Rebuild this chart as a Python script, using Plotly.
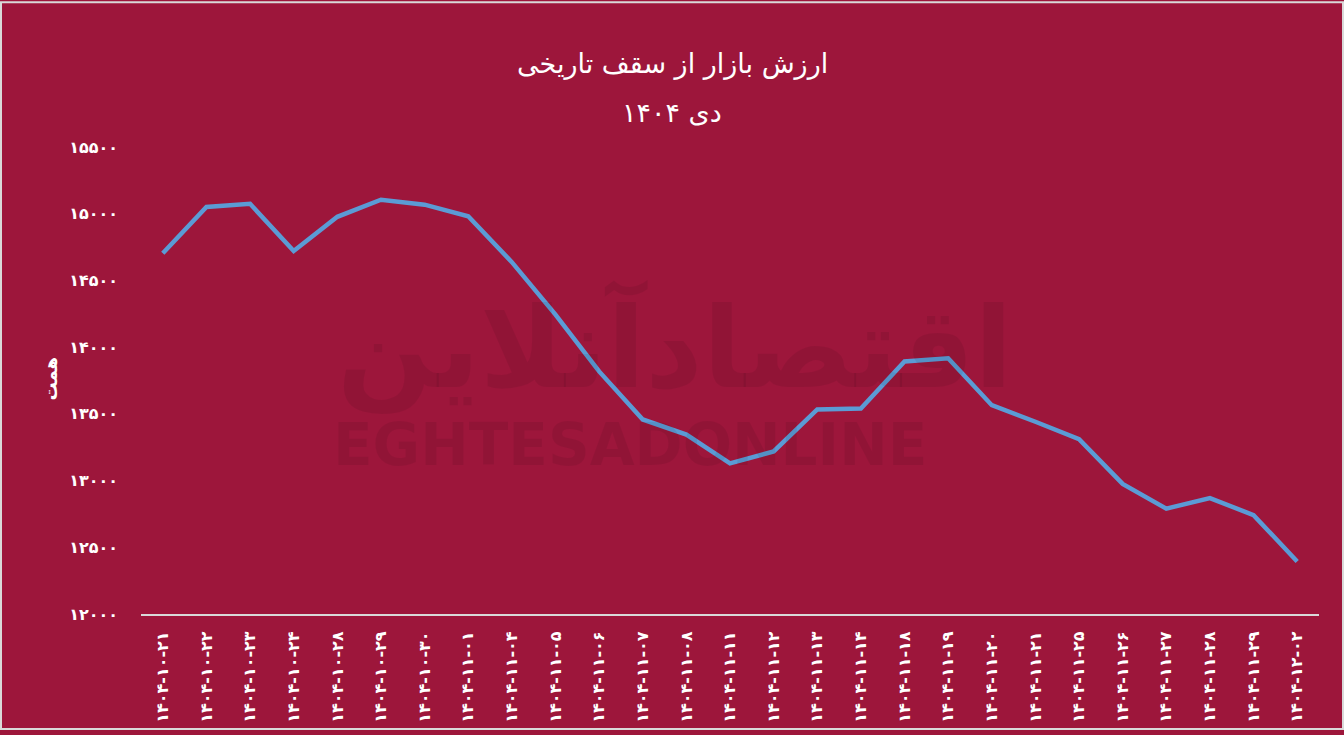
import plotly.graph_objects as go

dates = ["۱۴۰۴-۱۰-۲۱", "۱۴۰۴-۱۰-۲۲", "۱۴۰۴-۱۰-۲۳", "۱۴۰۴-۱۰-۲۴", "۱۴۰۴-۱۰-۲۸",
         "۱۴۰۴-۱۰-۲۹", "۱۴۰۴-۱۰-۳۰", "۱۴۰۴-۱۱-۰۱", "۱۴۰۴-۱۱-۰۴", "۱۴۰۴-۱۱-۰۵",
         "۱۴۰۴-۱۱-۰۶", "۱۴۰۴-۱۱-۰۷", "۱۴۰۴-۱۱-۰۸", "۱۴۰۴-۱۱-۱۱", "۱۴۰۴-۱۱-۱۲",
         "۱۴۰۴-۱۱-۱۳", "۱۴۰۴-۱۱-۱۴", "۱۴۰۴-۱۱-۱۸", "۱۴۰۴-۱۱-۱۹", "۱۴۰۴-۱۱-۲۰",
         "۱۴۰۴-۱۱-۲۱", "۱۴۰۴-۱۱-۲۵", "۱۴۰۴-۱۱-۲۶", "۱۴۰۴-۱۱-۲۷", "۱۴۰۴-۱۱-۲۸",
         "۱۴۰۴-۱۱-۲۹", "۱۴۰۴-۱۲-۰۲"]

values = [14704, 15051, 15074, 14721, 14977, 15105, 15068, 14981, 14637, 14244,
          13818, 13458, 13345, 13129, 13218, 13533, 13540, 13892, 13917, 13565,
          13441, 13310, 12975, 12790, 12869, 12741, 12394]

y_tickvals = [12000, 12500, 13000, 13500, 14000, 14500, 15000, 15500]
y_ticktext = ["۱۲۰۰۰", "۱۲۵۰۰", "۱۳۰۰۰", "۱۳۵۰۰", "۱۴۰۰۰", "۱۴۵۰۰", "۱۵۰۰۰", "۱۵۵۰۰"]

title_line1 = "ارزش بازار از سقف تاریخی"
title_line2 = "دی ۱۴۰۴"
y_title = "همت"

BG = "#9D163B"
FONT = "DejaVu Sans"

fig = go.Figure()
fig.add_trace(go.Scatter(
    x=dates, y=values, mode="lines",
    line=dict(color="#5B9BD5", width=4.5),
    hoverinfo="skip", showlegend=False,
))

W, H = 1344, 735
L, R, T, B = 141, 25, 147, 117
pw, ph = W - L - R, H - T - B

def px(x):
    return (x - L) / pw

def py(y):
    return (H - B - y) / ph

fig.update_layout(
    width=W, height=H,
    margin=dict(l=L, r=R, t=T, b=B),
    paper_bgcolor=BG, plot_bgcolor=BG,
    font=dict(family=FONT, color="white"),
    xaxis=dict(
        type="category", showgrid=False, zeroline=False,
        showline=True, linecolor="#D9D9D9", linewidth=2,
        tickangle=-90, tickfont=dict(size=16, color="white", family=FONT, weight="bold"),
        ticks="", ticklabelstandoff=9,
        range=[-0.5, len(dates) - 0.5],
    ),
    yaxis=dict(
        range=[12000, 15500], showgrid=False, zeroline=False, showline=False,
        tickvals=y_tickvals, ticktext=y_ticktext,
        tickfont=dict(size=16, color="white", family=FONT, weight="bold"),
        ticks="", ticklabelstandoff=22,
    ),
    shapes=[dict(
        type="rect", xref="paper", yref="paper",
        x0=px(1), x1=px(W - 1), y0=py(H - 1), y1=py(1),
        line=dict(color="#D9D9D9", width=2), fillcolor="rgba(0,0,0,0)", layer="below",
    )],
    annotations=[
        dict(text="اقتصادآنلاین", xref="paper", yref="paper",
             x=px(675), y=py(348), showarrow=False,
             font=dict(size=112, color="rgba(0,0,0,0.07)", family=FONT, weight="bold")),
        dict(text="EGHTESADONLINE", xref="paper", yref="paper",
             x=px(630), y=py(448), showarrow=False,
             font=dict(size=58, color="rgba(0,0,0,0.07)", family=FONT, weight="bold")),
        dict(text=title_line1, xref="paper", yref="paper",
             x=px(672), y=py(45), showarrow=False,
             font=dict(size=27, color="white", family=FONT)),
        dict(text=title_line2, xref="paper", yref="paper",
             x=px(672), y=py(95), showarrow=False,
             font=dict(size=27, color="white", family=FONT)),
        dict(text=y_title, xref="paper", yref="paper",
             x=px(38), y=py(380), showarrow=False, textangle=-90,
             font=dict(size=18, color="white", family=FONT, weight="bold")),
    ],
)

fig.write_html("out.html", config={"displayModeBar": False},
               post_script="document.body.style.margin='0';document.body.style.padding='0';")
